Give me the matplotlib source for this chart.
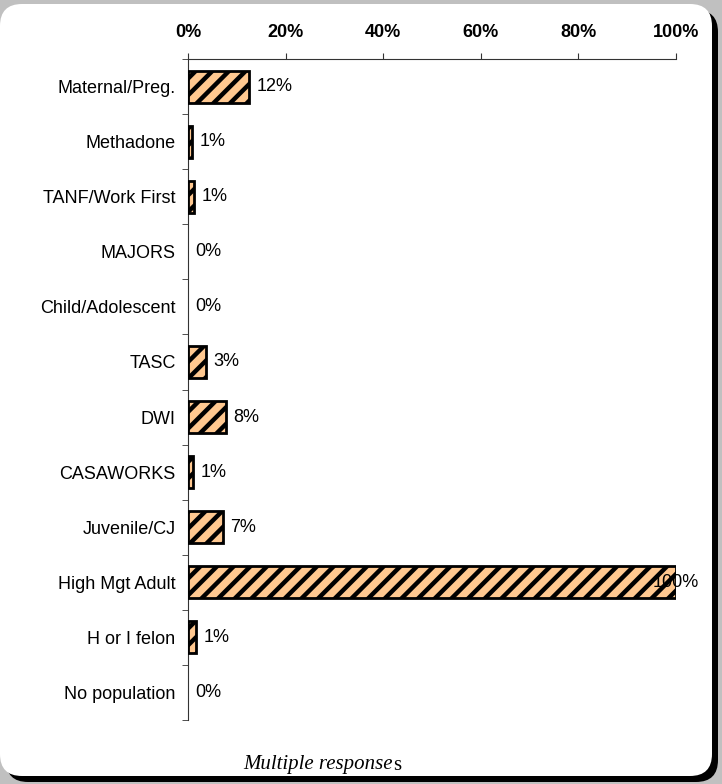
import matplotlib.pyplot as plt
from matplotlib.patches import FancyBboxPatch

# Data
categories = ['Maternal/Preg.', 'Methadone', 'TANF/Work First', 'MAJORS',
              'Child/Adolescent', 'TASC', 'DWI', 'CASAWORKS', 'Juvenile/CJ',
              'High Mgt Adult', 'H or I felon', 'No population']
values = [12.5, 0.8, 1.3, 0, 0, 3.6, 7.8, 1.0, 7.2, 100, 1.6, 0]
labels = ['12%', '1%', '1%', '0%', '0%', '3%', '8%', '1%', '7%', '100%', '1%', '0%']
ticks = [0, 20, 40, 60, 80, 100]

plt.rcParams['font.family'] = ['Liberation Sans', 'DejaVu Sans']
plt.rcParams['hatch.linewidth'] = 3.2
plt.rcParams['hatch.color'] = '#333333'

fig = plt.figure(figsize=(7.22, 7.84), dpi=100, facecolor='#c0c0c0')

# background panel with shadow (inches)
r = 0.22
shadow = FancyBboxPatch((0.06 + r, 0.02 + r), 7.12 - 2 * r, 7.72 - 2 * r,
                        boxstyle=f'round,pad={r}', transform=fig.dpi_scale_trans,
                        facecolor='black', edgecolor='none', zorder=-3)
panel = FancyBboxPatch((0.0 + r, 0.08 + r), 7.12 - 2 * r, 7.72 - 2 * r,
                       boxstyle=f'round,pad={r}', transform=fig.dpi_scale_trans,
                       facecolor='white', edgecolor='none', zorder=-2)
fig.patches.extend([shadow, panel])

ax = fig.add_axes([0.2604, 0.0816, 0.6759, 0.8431])
ax.set_facecolor('none')

y = list(range(len(categories)))
ax.barh(y, values, height=0.58, color='#ffc890', edgecolor='black',
        linewidth=[2 if v > 0 else 0 for v in values], hatch='//', zorder=3)

for yi, v, lab in zip(y, values, labels):
    ax.text(min(v + 1.5, 95.3), yi, lab, va='center', ha='left', fontsize=13, zorder=4)

ax.set_xlim(0, 100)
ax.set_ylim(len(categories) - 0.5, -0.5)
ax.set_yticks(y)
ax.set_yticklabels(categories, fontsize=13)
ax.set_yticks([i - 0.5 for i in range(len(categories) + 1)], minor=True)
ax.tick_params(axis='y', which='major', length=0, pad=9)
ax.tick_params(axis='y', which='minor', length=4, direction='out', color='#333333')

ax.xaxis.tick_top()
ax.set_xticks(ticks)
ax.set_xticklabels([f'{t}%' for t in ticks], fontsize=13, fontweight='bold')
ax.tick_params(axis='x', length=4.3, direction='out', pad=9, color='#333333')

for s in ['right', 'bottom']:
    ax.spines[s].set_visible(False)
ax.spines['left'].set_color('#333333')
ax.spines['top'].set_color('#333333')

fig.text(243 / 722, 1 - 765 / 784, 'Multiple response', family='Liberation Serif',
         style='italic', fontsize=15, va='center', ha='left')
fig.text(393 / 722, 1 - 765 / 784, 's', family='Liberation Serif',
         fontsize=15, va='center', ha='left')

fig.savefig('out.png', dpi=100, facecolor=fig.get_facecolor())
